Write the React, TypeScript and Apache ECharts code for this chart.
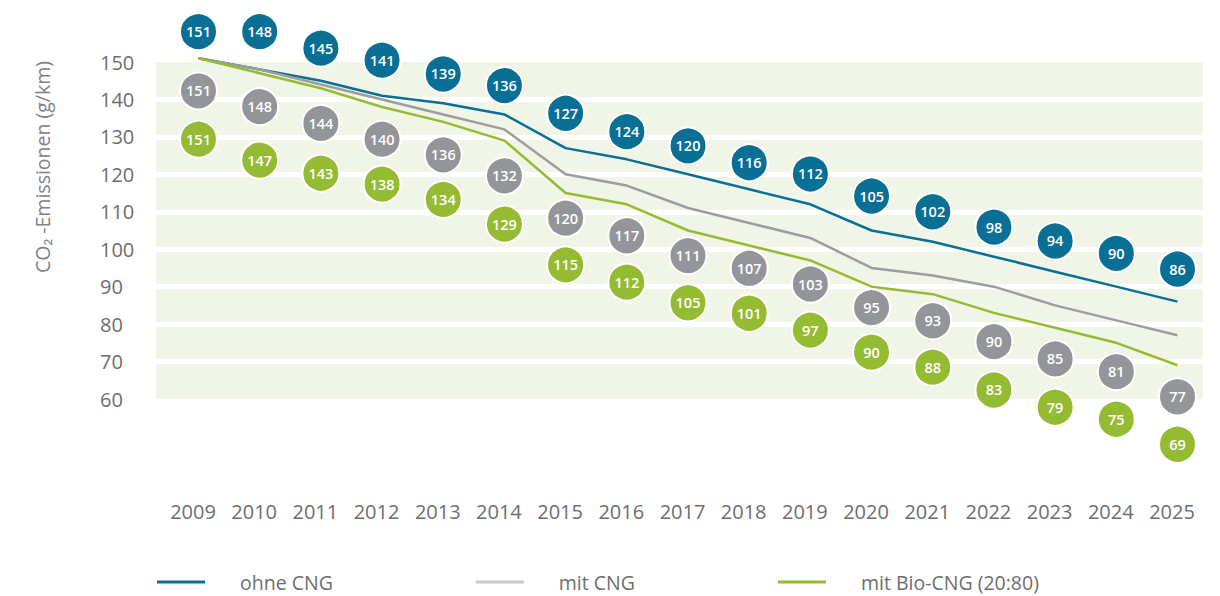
import React, { useEffect, useRef } from "react";
import * as echarts from "echarts";

const years = ["2009", "2010", "2011", "2012", "2013", "2014", "2015", "2016", "2017", "2018", "2019", "2020", "2021", "2022", "2023", "2024", "2025"];
const ohneCNG = [151, 148, 145, 141, 139, 136, 127, 124, 120, 116, 112, 105, 102, 98, 94, 90, 86];
const mitCNG = [151, 148, 144, 140, 136, 132, 120, 117, 111, 107, 103, 95, 93, 90, 85, 81, 77];
const mitBioCNG = [151, 147, 143, 138, 134, 129, 115, 112, 105, 101, 97, 90, 88, 83, 79, 75, 69];

// vertical position of each value badge, on the same y scale
const ohnePos = [158.1, 158.1, 153.7, 150.5, 146.8, 143.7, 136.3, 131.4, 127.6, 123.1, 120.1, 114.2, 110.0, 105.9, 102.2, 98.9, 94.7];
const mitPos = [142.3, 138.1, 133.6, 129.4, 125.2, 119.6, 108.3, 103.6, 98.3, 94.9, 90.7, 84.4, 80.9, 75.3, 70.7, 67.3, 60.6];
const bioPos = [129.4, 123.8, 120.3, 117.4, 113.3, 106.7, 95.8, 91.2, 85.7, 82.9, 78.4, 72.5, 68.5, 62.4, 57.8, 54.6, 47.9];

const seriesNames = ["ohne CNG", "mit CNG", "mit Bio-CNG (20:80)"];
const yMin = 60;
const yMax = 150;
const yStep = 10;

const BLUE = "#0a6f94";
const GRAY = "#939598";
const GRAY_LINE = "#9d9d9f";
const GRAY_LEGEND = "#c9c9c9";
const GREEN = "#95bb33";
const TEXT = "#6d6e70";
const FONT = "'Open Sans', 'Noto Sans', sans-serif";

export default function App() {
  const ref = useRef<HTMLDivElement>(null);

  useEffect(() => {
    document.body.style.margin = "0";
    if (!ref.current) return;
    const chart = echarts.init(ref.current, null, { renderer: "svg" });

    const badge = (name: string, pos: number[], vals: number[], color: string) => ({
      name,
      type: "scatter",
      xAxisIndex: 1,
      yAxisIndex: 1,
      clip: false,
      z: 5,
      symbol: "circle",
      symbolSize: 37,
      itemStyle: { color, borderColor: "#ffffff", borderWidth: 2, opacity: 1 },
      label: {
        show: true,
        position: "inside",
        formatter: (p: any) => String(p.value[2]),
        color: "#ffffff",
        fontSize: 14.5,
        fontWeight: 600,
        fontFamily: FONT,
      },
      encode: { x: 0, y: 1 },
      data: pos.map((p, i) => [i, p, vals[i]]),
    });

    const line = (name: string, vals: number[], color: string) => ({
      name,
      type: "line",
      xAxisIndex: 1,
      yAxisIndex: 1,
      z: 2,
      symbol: "none",
      lineStyle: { color, width: 2.5 },
      itemStyle: { color },
      data: vals,
    });

    chart.setOption({
      animation: false,
      grid: [
        { left: 156, right: 17, top: 62, height: 337 },
        { left: 198.5, right: 42.5, top: 24.56, height: 449.3 },
      ],
      xAxis: [
        { gridIndex: 0, type: "value", min: 0, max: 1, show: false },
        {
          gridIndex: 1,
          type: "category",
          data: years,
          boundaryGap: false,
          axisLine: { show: false },
          axisTick: { show: false },
          splitLine: { show: false },
          axisLabel: {
            interval: 0,
            margin: 28,
            padding: [0, 11, 0, 0],
            color: TEXT,
            fontSize: 20,
            fontFamily: FONT,
          },
        },
      ],
      yAxis: [
        {
          gridIndex: 0,
          type: "value",
          min: yMin,
          max: yMax,
          interval: yStep,
          axisLine: { show: false },
          axisTick: { show: false },
          axisLabel: {
            align: "left",
            margin: 56,
            color: TEXT,
            fontSize: 20,
            fontFamily: FONT,
          },
          splitArea: { show: true, areaStyle: { color: ["#f1f5e8", "#f1f5e8"] } },
          splitLine: {
            show: true,
            showMinLine: false,
            showMaxLine: false,
            lineStyle: { color: "#ffffff", width: 5 },
          },
        },
        { gridIndex: 1, type: "value", min: 40, max: 160, show: false },
      ],
      legend: {
        left: 157,
        top: 572,
        padding: 0,
        icon: "rect",
        itemWidth: 48,
        itemHeight: 3,
        itemGap: 143,
        textStyle: {
          color: TEXT,
          fontSize: 19.5,
          lineHeight: 18,
          fontFamily: FONT,
          padding: [0, 0, 0, 30],
        },
        data: [
          { name: seriesNames[0], itemStyle: { color: BLUE } },
          { name: seriesNames[1], itemStyle: { color: GRAY_LEGEND } },
          { name: seriesNames[2], itemStyle: { color: GREEN } },
        ],
      },
      graphic: [
        {
          type: "text",
          x: 42,
          y: 167,
          rotation: Math.PI / 2,
          style: {
            text: "CO₂ -Emissionen (g/km)",
            fill: "#808184",
            fontSize: 19.5,
            fontFamily: FONT,
            align: "center",
            verticalAlign: "middle",
          },
        },
      ],
      series: [
        line(seriesNames[0], ohneCNG, BLUE),
        line(seriesNames[1], mitCNG, GRAY_LINE),
        line(seriesNames[2], mitBioCNG, GREEN),
        badge("ohne CNG Werte", ohnePos, ohneCNG, BLUE),
        badge("mit CNG Werte", mitPos, mitCNG, GRAY),
        badge("mit Bio-CNG Werte", bioPos, mitBioCNG, GREEN),
      ],
    });

    return () => chart.dispose();
  }, []);

  return <div ref={ref} style={{ width: 1220, height: 596 }} />;
}
